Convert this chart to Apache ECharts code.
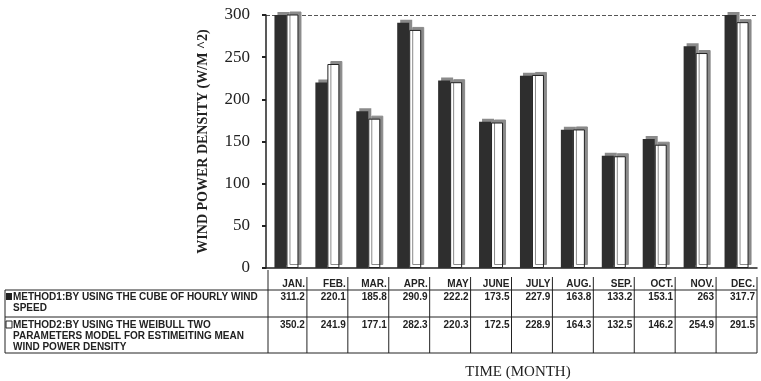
<!DOCTYPE html>
<html>
<head>
<meta charset="utf-8">
<script src="https://cdn.jsdelivr.net/npm/echarts@6/dist/echarts.min.js"></script>
<style>
html, body { margin: 0; padding: 0; background: #fff; }
#main { width: 761px; height: 381px; }
</style>
</head>
<body>
<div id="main"></div>
<script>
// data
var months = ['JAN.', 'FEB.', 'MAR.', 'APR.', 'MAY', 'JUNE', 'JULY', 'AUG.', 'SEP.', 'OCT.', 'NOV.', 'DEC.'];
var method1 = [311.2, 220.1, 185.8, 290.9, 222.2, 173.5, 227.9, 163.8, 133.2, 153.1, 263, 317.7];
var method2 = [350.2, 241.9, 177.1, 282.3, 220.3, 172.5, 228.9, 164.3, 132.5, 146.2, 254.9, 291.5];
var method1Text = ['METHOD1:BY USING THE CUBE OF HOURLY WIND', 'SPEED'];
var method2Text = ['METHOD2:BY USING THE WEIBULL TWO', 'PARAMETERS MODEL FOR ESTIMEITING MEAN', 'WIND POWER DENSITY'];
var method1Shown = ['311.2', '220.1', '185.8', '290.9', '222.2', '173.5', '227.9', '163.8', '133.2', '153.1', '263', '317.7'];

var ink = '#222';
var tableFont = 'bold 10px "Liberation Sans", Arial, sans-serif';

var myChart = echarts.init(document.getElementById('main'));
var option = {
    backgroundColor: '#fff',
    animation: false,
    grid: { left: 266, right: 4, top: 15, bottom: 113 },
    xAxis: {
        type: 'category',
        data: months,
        axisLine: { lineStyle: { color: ink, width: 1.5 } },
        axisTick: { show: false },
        axisLabel: { show: false }
    },
    yAxis: {
        type: 'value',
        min: 0,
        max: 300,
        interval: 50,
        name: 'WIND POWER DENSITY (W/M ^2)',
        nameLocation: 'middle',
        nameGap: 56,
        nameTextStyle: { fontFamily: 'Liberation Serif', fontWeight: 'bold', fontSize: 14, color: ink },
        axisLine: { show: true, lineStyle: { color: ink, width: 1.5 } },
        axisTick: { show: true, length: 4, lineStyle: { color: ink, width: 2 } },
        axisLabel: { fontFamily: 'Liberation Serif', fontSize: 17, color: ink, margin: 16 },
        splitLine: {
            show: true,
            lineStyle: { type: 'dashed', color: ['transparent', 'transparent', 'transparent', 'transparent', 'transparent', 'transparent', '#555'] }
        }
    },
    series: [{
        name: 'METHOD1',
        type: 'bar',
        data: method1,
        barWidth: 12,
        barGap: '0%',
        itemStyle: {
            color: '#2e2e2e',
            shadowColor: '#8a8a8a',
            shadowOffsetX: 3,
            shadowOffsetY: -3
        }
    }, {
        name: 'METHOD2',
        type: 'bar',
        data: method2,
        barWidth: 12,
        itemStyle: {
            color: '#fff',
            borderColor: ink,
            borderWidth: 1,
            shadowColor: '#8a8a8a',
            shadowOffsetX: 3,
            shadowOffsetY: -3
        }
    }]
};
myChart.setOption(option);

// data table under the plot, columns placed on the category axis
var left = 266, right = 757;
var colW = (right - left) / months.length;
var rowTop = 277, row1 = 290, row2 = 317, rowEnd = 353;
var els = [];
function line(x1, y1, x2, y2) {
    els.push({ type: 'line', shape: { x1: x1, y1: y1, x2: x2, y2: y2 }, style: { stroke: ink, lineWidth: 1 } });
}
function text(x, y, s, align) {
    els.push({ type: 'text', x: x, y: y, style: { text: s, font: tableFont, fill: ink, align: align || 'left', verticalAlign: 'middle' } });
}
line(5, row1, right, row1);
line(5, row2, right, row2);
line(5, rowEnd, right, rowEnd);
line(5, row1, 5, rowEnd);
line(left + 2, 270, left + 2, rowEnd);
for (var i = 0; i < months.length; i++) {
    var cx = myChart.convertToPixel({ xAxisIndex: 0 }, months[i]);
    var rx = cx + colW / 2 - 2;
    line(cx + colW / 2, rowTop, cx + colW / 2, rowEnd);
    text(rx, 284, months[i], 'right');
    text(rx, 297, method1Shown[i], 'right');
    text(rx, 325, String(method2[i]), 'right');
}
els.push({ type: 'rect', shape: { x: 6, y: 293, width: 6, height: 7 }, style: { fill: ink } });
els.push({ type: 'rect', shape: { x: 6, y: 321, width: 6, height: 7 }, style: { fill: '#fff', stroke: ink, lineWidth: 1 } });
text(13, 297, method1Text[0]);
text(13, 308, method1Text[1]);
text(13, 325, method2Text[0]);
text(13, 336, method2Text[1]);
text(13, 347, method2Text[2]);
els.push({ type: 'text', x: 518, y: 372, style: { text: 'TIME (MONTH)', font: '15px "Liberation Serif", serif', fill: ink, align: 'center', verticalAlign: 'middle' } });
myChart.setOption({ graphic: els });
</script>
</body>
</html>
